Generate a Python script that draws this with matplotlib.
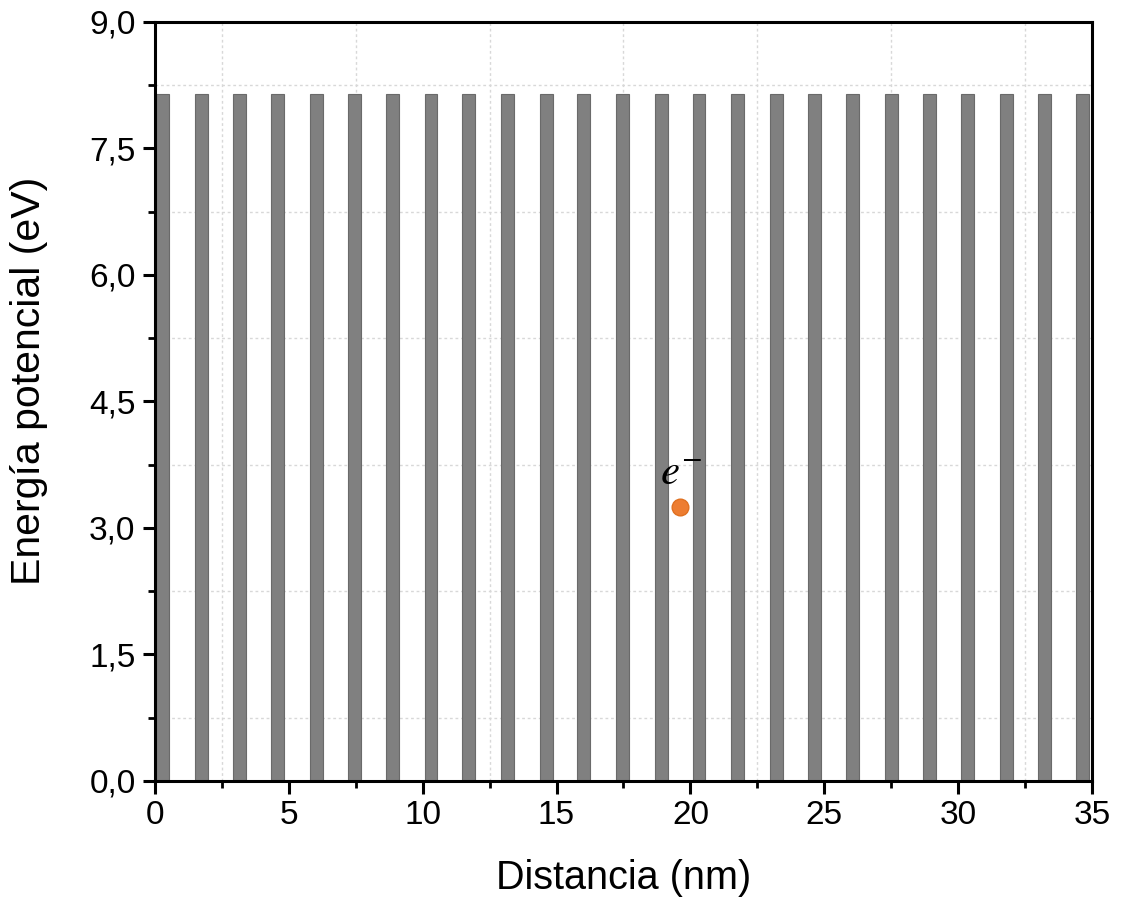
import matplotlib

matplotlib.use('Agg')
import matplotlib.pyplot as plt
from matplotlib.ticker import MultipleLocator, FuncFormatter

plt.rcParams['font.family'] = ['Liberation Sans', 'DejaVu Sans']
plt.rcParams['mathtext.fontset'] = 'stix'

# left edge of each potential barrier (nm)
barrier_left = [0.05, 1.50, 2.92, 4.33, 5.78, 7.20, 8.62, 10.07, 11.48, 12.92,
                14.37, 15.78, 17.22, 18.67, 20.08, 21.52, 22.98, 24.38, 25.82,
                27.27, 28.68, 30.12, 31.58, 33.00, 34.42]
barrier_width = 0.48
barrier_height = 8.15

electron_x = 19.6
electron_y = 3.25

fig = plt.figure(figsize=(11.24, 9.01), dpi=100)
ax = fig.add_axes([0.1379, 0.1332, 0.8336, 0.8424])

ax.bar(barrier_left, [barrier_height] * len(barrier_left), width=barrier_width,
       align='edge', color='#808080', edgecolor='#6a6a6a', linewidth=0.8, zorder=2)

ax.plot([electron_x], [electron_y], 'o', color='#ed7d31', markersize=12,
        markeredgecolor='#e07020', zorder=4)
ax.text(electron_x + 0.05, electron_y + 0.27, r'$e^{-}$', fontsize=31,
        ha='center', va='baseline', zorder=4)

ax.set_xlim(0, 35)
ax.set_ylim(0, 9)
ax.xaxis.set_major_locator(MultipleLocator(5))
ax.xaxis.set_minor_locator(MultipleLocator(2.5))
ax.yaxis.set_major_locator(MultipleLocator(1.5))
ax.yaxis.set_minor_locator(MultipleLocator(0.75))
ax.yaxis.set_major_formatter(FuncFormatter(lambda v, p: ('%.1f' % v).replace('.', ',')))
ax.xaxis.set_major_formatter(FuncFormatter(lambda v, p: '%d' % v))

# only the minor positions carry grid lines in the original
ax.grid(which='minor', color='#d8d8d8', linestyle=(0, (2, 2)), linewidth=1.0, zorder=0)
ax.set_axisbelow(True)

for s in ax.spines.values():
    s.set_linewidth(2.2)
    s.set_zorder(5)

ax.tick_params(which='major', direction='out', length=9, width=2.2,
               labelsize=24, pad=5, top=False, right=False)
ax.tick_params(which='minor', direction='out', length=5, width=2.0,
               top=False, right=False)

ax.set_xlabel('Distancia (nm)', fontsize=28.5, labelpad=20)
ax.set_ylabel('Energía potencial (eV)', fontsize=29.5)
ax.yaxis.set_label_coords(-0.114, 0.527)

fig.savefig('out.png', dpi=100)
